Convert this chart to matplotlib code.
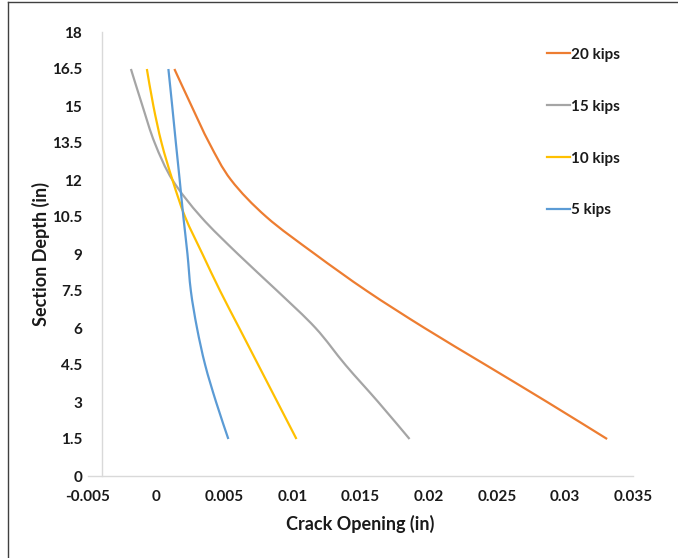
import numpy as np
import matplotlib.pyplot as plt
from matplotlib.lines import Line2D
from matplotlib.path import Path
from matplotlib.patches import PathPatch

# ── data ───────────────────────────────────────────────
depth = [16.5, 15, 13.5, 12, 10.5, 9, 7.5, 6, 4.5, 3, 1.5]

open_20 = [0.00134, 0.0026, 0.0039, 0.0055, 0.0081, 0.01165, 0.01547, 0.0197, 0.0242, 0.0287, 0.0331]
open_15 = [-0.00185, -0.0010, -0.0001, 0.0012, 0.0033, 0.0060, 0.0089, 0.0117, 0.0139, 0.0163, 0.0186]
open_10 = [-0.00068, -0.0002, 0.0004, 0.0012, 0.00213, 0.0034, 0.0047, 0.0061, 0.0075, 0.0089, 0.0103]
open_5  = [0.0009, 0.00118, 0.00145, 0.00173, 0.0020, 0.0023, 0.00255, 0.0030, 0.0036, 0.0044, 0.0053]

series = [('20 kips', open_20, '#ED7D31'),
          ('15 kips', open_15, '#A5A5A5'),
          ('10 kips', open_10, '#FFC000'),
          ('5 kips',  open_5,  '#5B9BD5')]

x_ticks = [-0.005, 0, 0.005, 0.01, 0.015, 0.02, 0.025, 0.03, 0.035]
x_tick_labels = ['-0.005', '0', '0.005', '0.01', '0.015', '0.02', '0.025', '0.03', '0.035']
y_ticks = [0, 1.5, 3, 4.5, 6, 7.5, 9, 10.5, 12, 13.5, 15, 16.5, 18]
y_tick_labels = ['0', '1.5', '3', '4.5', '6', '7.5', '9', '10.5', '12', '13.5', '15', '16.5', '18']


def smooth_path(x, y):
    # Excel-like "smoothed line": cubic Bezier segments through the points
    p = np.column_stack([x, y])
    n = len(p)
    verts, codes = [p[0]], [Path.MOVETO]
    for i in range(n - 1):
        p0 = p[i - 1] if i > 0 else p[i]
        p3 = p[i + 2] if i + 2 < n else p[i + 1]
        c1 = p[i] + (p[i + 1] - p0) / 6
        c2 = p[i + 1] - (p3 - p[i]) / 6
        verts += [c1, c2, p[i + 1]]
        codes += [Path.CURVE4] * 3
    return Path(verts, codes)


# ── plot ───────────────────────────────────────────────
plt.rcParams['font.family'] = ['Lato', 'DejaVu Sans']
plt.rcParams['font.weight'] = 'bold'
plt.rcParams['axes.labelweight'] = 'bold'

fig = plt.figure(figsize=(6.78, 5.58), dpi=100)
W, H = 678, 558
ax = fig.add_axes([88/W, 1 - 476/H, (633-88)/W, (476-32)/H])

handles = []
for name, vals, col in series:
    ax.add_patch(PathPatch(smooth_path(vals, depth), fill=False, edgecolor=col,
                           lw=1.6, capstyle='butt'))
    handles.append(Line2D([], [], color=col, lw=1.6, label=name))

ax.set_xlim(-0.005, 0.035)
ax.set_ylim(0, 18)
ax.set_xticks(x_ticks)
ax.set_xticklabels(x_tick_labels)
ax.set_yticks(y_ticks)
ax.set_yticklabels(y_tick_labels)
ax.tick_params(length=0, labelsize=11, colors='#1a1a1a', pad=10)
ax.tick_params(axis='y', pad=14)

for s in ['top', 'right']:
    ax.spines[s].set_visible(False)
ax.spines['left'].set_position(('data', -0.004))
for s in ['left', 'bottom']:
    ax.spines[s].set_color('#d9d9d9')
    ax.spines[s].set_linewidth(1.0)

ax.set_xlabel('Crack Opening (in)', fontsize=13, fontweight='bold', color='#1a1a1a', labelpad=8)
ax.set_ylabel('Section Depth (in)', fontsize=13, fontweight='bold', color='#1a1a1a')
ax.yaxis.set_label_coords((50-88)/545, 0.5)

leg = ax.legend(handles=handles, loc='upper left',
                bbox_to_anchor=((533-88)/545, 1 - (34-32)/444),
                frameon=False, handlelength=1.5, handletextpad=0.1,
                labelspacing=2.48, prop={'weight': 'bold', 'size': 11})
for t in leg.get_texts():
    t.set_color('#1a1a1a')

# outer frame (left and top edges of the screenshot)
fig.add_artist(Line2D([8/W, 8/W], [0, 1 - 2/H], color='#404040', lw=1.0))
fig.add_artist(Line2D([8/W, 1], [1 - 2/H, 1 - 2/H], color='#404040', lw=1.0))

fig.savefig('out.png', dpi=100)
